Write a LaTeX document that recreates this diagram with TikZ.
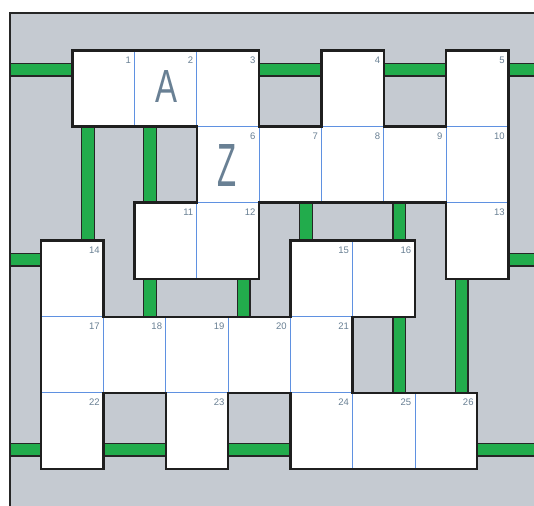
\documentclass[tikz,border=0pt]{standalone}
\usepackage{fontspec}
\setmainfont{Liberation Sans}
\definecolor{bg}{RGB}{197,202,209}
\definecolor{barg}{RGB}{34,172,76}
\definecolor{cellb}{RGB}{95,145,225}
\definecolor{numc}{RGB}{105,128,148}
\begin{document}
\begin{tikzpicture}[x=31.15pt,y=-38pt,
  bar/.style={draw=black!85,line width=1.2pt,double=barg,double distance=11.5pt},
  cellbox/.style={fill=white,draw=cellb,line width=0.9pt},
  outline/.style={draw=black!88,line width=2.4pt,line join=miter},
  num/.style={anchor=north east,inner sep=0pt,text=numc,font=\fontsize{9.5}{9.5}\selectfont},
  letter/.style={inner sep=0pt,text=numc}]
\useasboundingbox (-0.3210,-0.3342) rectangle (16.8218,12.9553);
% background frame
\fill[bg] (0,0) rectangle (17,13.5);
% green bars
\draw[bar] (0,1.5) -- (17,1.5);
\draw[bar] (0,6.5) -- (1,6.5);
\draw[bar] (16,6.5) -- (17,6.5);
\draw[bar] (0,11.5) -- (17,11.5);
\draw[bar] (2.5,3) -- (2.5,6);
\draw[bar] (4.5,3) -- (4.5,5);
\draw[bar] (4.5,7) -- (4.5,8);
\draw[bar] (7.5,7) -- (7.5,8);
\draw[bar] (9.5,5) -- (9.5,6);
\draw[bar] (12.5,5) -- (12.5,6);
\draw[bar] (12.5,8) -- (12.5,10);
\draw[bar] (14.5,7) -- (14.5,10);
\draw[line width=2pt,black!85] (0,13.5) -- (0,0) -- (17,0);
% cells
\foreach \k/\j/\n in {2/1/1,4/1/2,6/1/3,10/1/4,14/1/5,
  6/3/6,8/3/7,10/3/8,12/3/9,14/3/10,
  4/5/11,6/5/12,14/5/13,
  1/6/14,9/6/15,11/6/16,
  1/8/17,3/8/18,5/8/19,7/8/20,9/8/21,
  1/10/22,5/10/23,9/10/24,11/10/25,13/10/26}{
  \draw[cellbox] (\k,\j) rectangle ++(2,2);
  \path (\k,\j) ++(2,0) node[num,xshift=-3.5pt,yshift=-6pt] (n\n) {\n};
}
% black outlines
\draw[outline] (2,1) -- (8,1) -- (8,3) -- (10,3) -- (10,1) -- (12,1) -- (12,3)
  -- (14,3) -- (14,1) -- (16,1) -- (16,7) -- (14,7) -- (14,5) -- (8,5) -- (8,7)
  -- (4,7) -- (4,5) -- (6,5) -- (6,3) -- (2,3) -- cycle;
\draw[outline] (1,6) -- (3,6) -- (3,8) -- (9,8) -- (9,6) -- (13,6) -- (13,8)
  -- (11,8) -- (11,10) -- (15,10) -- (15,12) -- (9,12) -- (9,10) -- (7,10)
  -- (7,12) -- (5,12) -- (5,10) -- (3,10) -- (3,12) -- (1,12) -- cycle;
% letters
\node[letter] (la) at (5.008,1.929) {\resizebox{22pt}{32pt}{A}};
\node[letter] (lz) at (6.976,4.034) {\resizebox{19pt}{42pt}{Z}};
\end{tikzpicture}
\end{document}
